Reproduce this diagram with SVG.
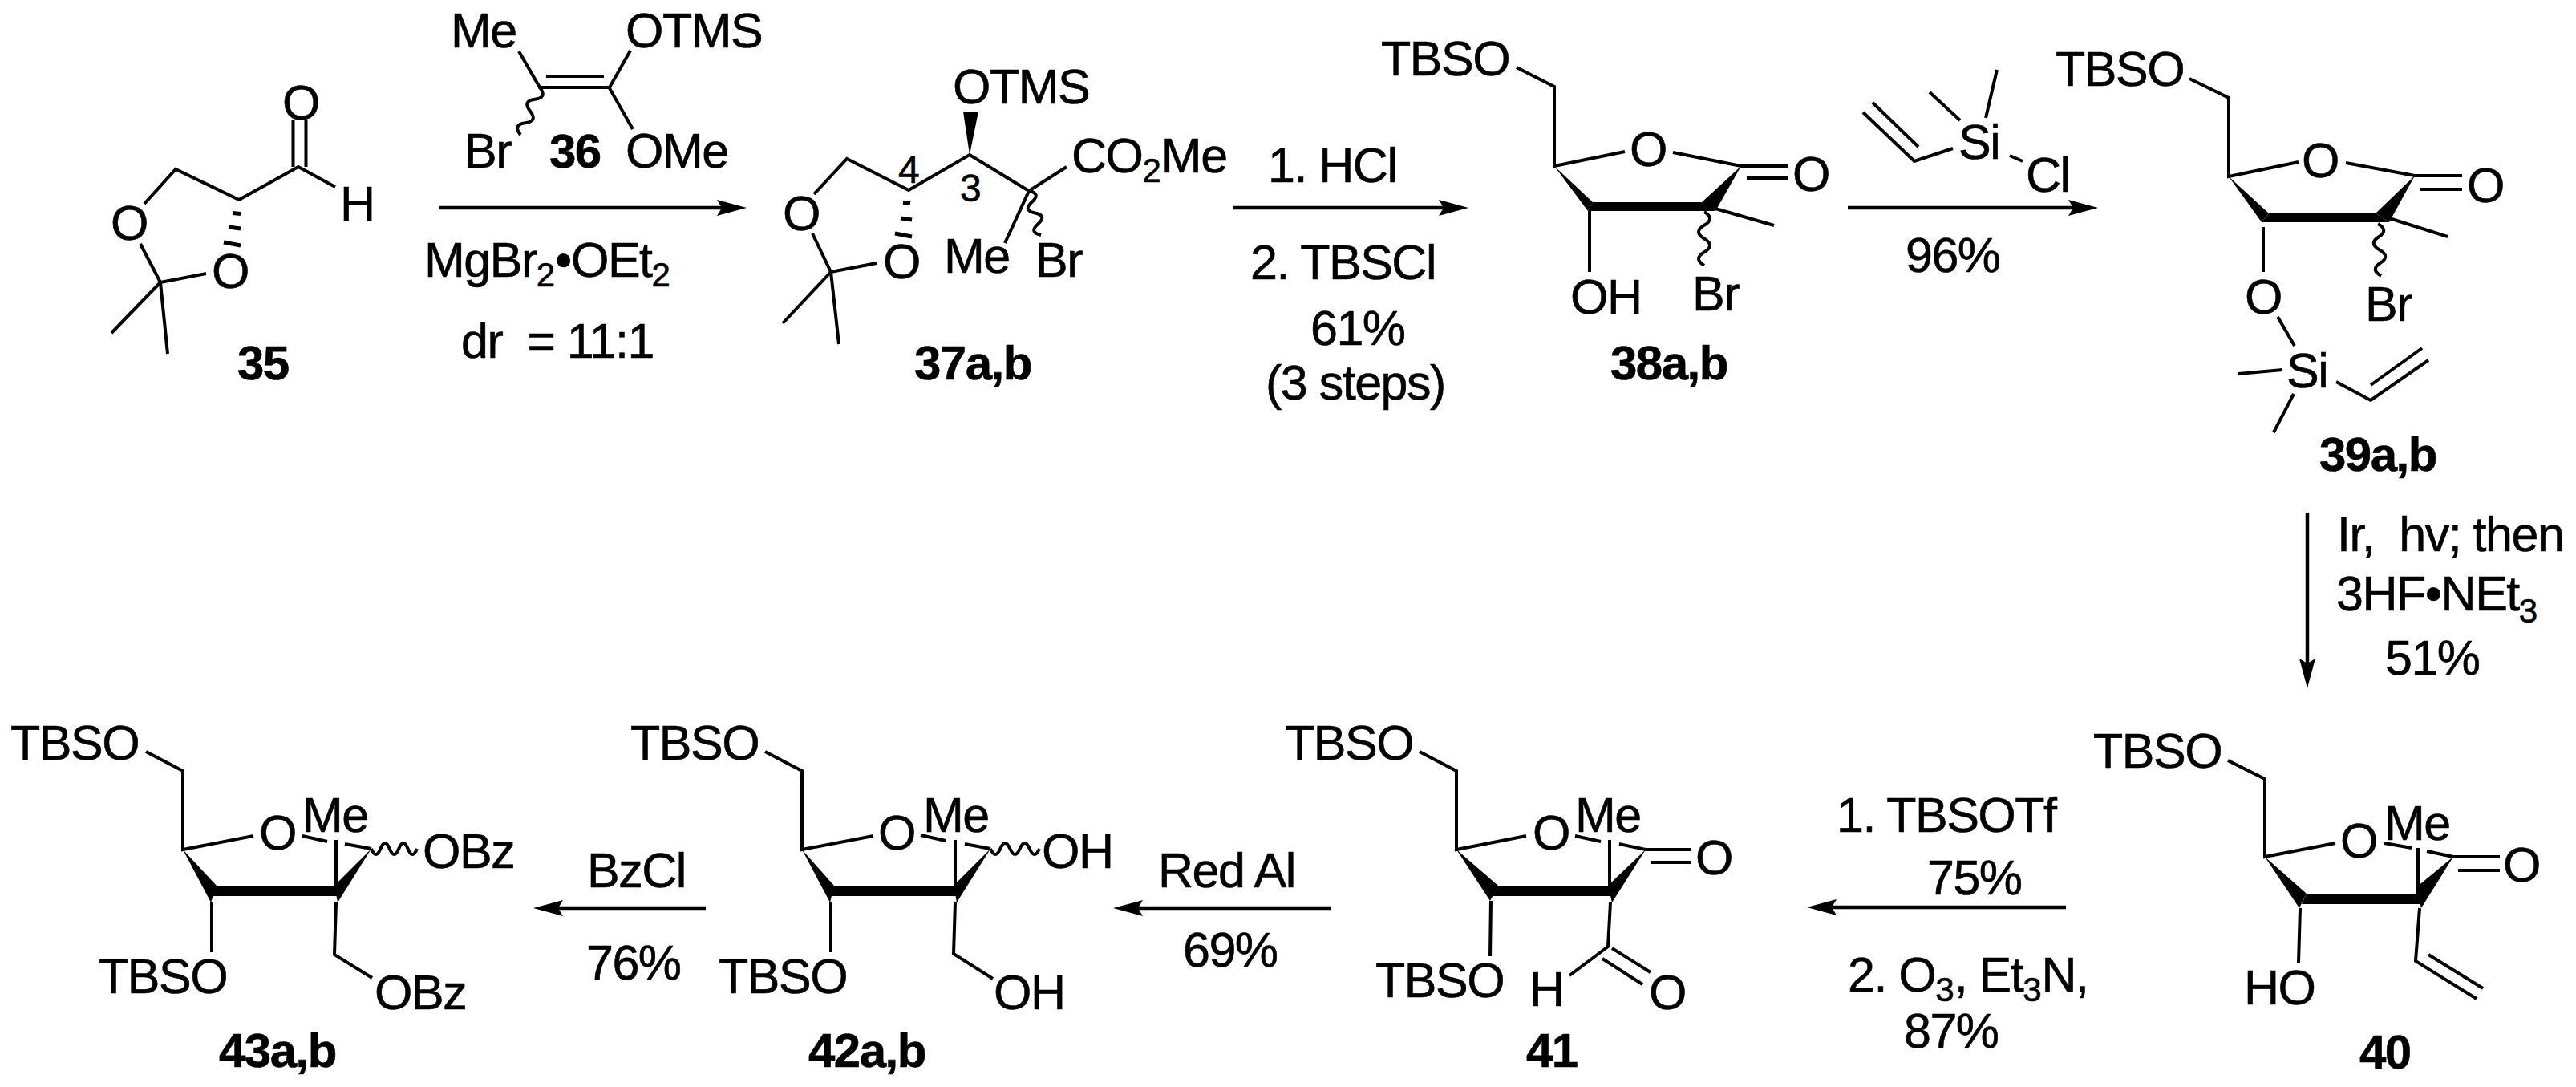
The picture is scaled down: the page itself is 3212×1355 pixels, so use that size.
<svg xmlns="http://www.w3.org/2000/svg" width="3212" height="1355" viewBox="0 0 3212 1355">
<style>
text{font-family:"Liberation Sans",Arial,sans-serif;font-size:61px;letter-spacing:-1.500px;fill:#000;stroke:#000;stroke-width:.6px}
.l{font-weight:bold;font-size:60px}
.n{font-size:48px;letter-spacing:0}
.s{font-size:42px;letter-spacing:0}
.bond{fill:none;stroke:#000;stroke-width:4}
.wave{fill:none;stroke:#000;stroke-width:4}
.hash{fill:none;stroke:#000;stroke-width:5}
.solid{fill:#000;stroke:none}
.arrow{fill:none;stroke:#000;stroke-width:4.500;marker-end:url(#head)}
</style>
<defs>
<marker id="head" markerUnits="userSpaceOnUse" markerWidth="40" markerHeight="22" refX="27" refY="10" orient="auto">
<path d="M0 0L37 10L0 20L6 10Z" fill="#000"/>
</marker>
</defs>
<rect width="3212" height="1355" fill="#fff"/>
<g id="connectors">
<line class="arrow" x1="548" y1="259" x2="921" y2="259"/>
<line class="arrow" x1="1538" y1="259" x2="1821" y2="259"/>
<line class="arrow" x1="2304" y1="259" x2="2606" y2="259"/>
<line class="arrow" x1="2877" y1="639" x2="2877" y2="848"/>
<line class="arrow" x1="2576" y1="1131" x2="2263" y2="1131"/>
<line class="arrow" x1="1660" y1="1132" x2="1398" y2="1132"/>
<line class="arrow" x1="880" y1="1132" x2="675" y2="1132"/>
</g>
<g id="node-35">
<path class="bond" d="M365.500 150V208M381.500 150V208M418 233L372 208L298 249L219 211L180 254M175 304L200 352L257 341M200 352L139 415M200 352L209 441"/>
<path class="hash" d="M290 265.500L300 266.500M285 283L300 285M279 302L300 306"/>
<text x="352" y="149">O</text><text x="424" y="275">H</text><text x="138" y="299">O</text><text x="264" y="359">O</text>
<text class="l" x="296" y="473">35</text>
</g>
<g id="node-36">
<path class="bond" d="M647 64L673 109H760L786 63M760 110L789 161M681 95H753"/>
<path class="wave" d="M673 109q10 12.700 -6 14.750t-6 14.750t-6 14.750t-6 14.750"/>
<text x="562" y="59">Me</text><text x="780" y="59">OTMS</text><text x="579" y="209">Br</text><text x="780" y="209">OMe</text>
<text class="l" x="685" y="209">36</text>
</g>
<g id="reagents-1">
<text x="529" y="345">MgBr<tspan class="s" dy="12">2</tspan><tspan dy="-12">•OEt</tspan><tspan class="s" dy="12">2</tspan></text>
<text x="575" y="446">dr <tspan dx="15.500">= 11:1</tspan></text>
</g>
<g id="node-37">
<path class="bond" d="M1015 242L1056 198L1133 237L1209 193L1283 238L1330 208M1283 238L1253 303M1013 291L1036 339L1093 328M1036 339L976 403M1036 339L1046 429"/>
<polygon class="solid" points="1209,193 1201,139 1220,139"/>
<path class="hash" d="M1126 252.500L1135 253.500M1123 272L1137 274M1116 291L1137 295"/>
<path class="wave" d="M1283 238q15.400 3.200 3.750 13.750t3.750 13.750t3.750 13.750t3.750 13.750"/>
<text x="1188" y="129">OTMS</text><text x="1336" y="215">CO<tspan class="s" dy="12">2</tspan><tspan dy="-12">Me</tspan></text>
<text x="976" y="287">O</text><text x="1101" y="347">O</text>
<text class="n" x="1120" y="228">4</text><text class="n" x="1197" y="251">3</text>
<text x="1177" y="340">Me</text><text x="1291" y="345">Br</text>
<text class="l" x="1140" y="473">37a,b</text>
</g>
<g id="reagents-2">
<text x="1581" y="227">1. HCl</text><text x="1559" y="348">2. TBSCl</text><text x="1634" y="430">61%</text><text x="1578" y="498">(3 steps)</text>
</g>
<g id="node-38">
<path class="bond" d="M1891 84L1938 108V207L2026 189M2086 190L2171 207H2230M2178 222H2230M2139 260L2212 281M1982 263V339"/>
<polygon class="solid" points="1938,207 1986,252 1980,263"/>
<polygon class="solid" points="1986,252 2121,252 2139,263 1980,263"/>
<polygon class="solid" points="2171,207 2121,253 2139,263"/>
<path class="wave" d="M2125 264q14 8.400 0 16.750t0 16.750t0 16.750t0 16.750"/>
<text x="1722" y="94">TBSO</text><text x="2032" y="207">O</text><text x="2235" y="238">O</text><text x="1958" y="391">OH</text><text x="2110" y="387">Br</text>
<text class="l" x="2008" y="473">38a,b</text>
</g>
<g id="vinylsilane">
<path class="bond" d="M2406 115L2444 150M2490 87L2476 147M2435 185L2387 201L2323 140M2392 183L2335 128M2506 194L2522 201"/>
<text x="2442" y="198">Si</text><text x="2526" y="239">Cl</text>
</g>
<text id="yield-3" x="2376" y="339">96%</text>
<g id="node-39">
<path class="bond" d="M2730 98L2779 122V220L2866 202M2925 203L3011 219H3070M3018 236H3070M2979 272L3052 295M2822 283V339M2840 395L2861 431M2791 466L2846 461M2860 491L2835 539M2913 476L2956 499L3028 449M2956 480L3020 434"/>
<polygon class="solid" points="2779,220 2829,266 2820,277"/>
<polygon class="solid" points="2829,266 2962,266 2979,277 2820,277"/>
<polygon class="solid" points="3011,219 2962,266 2979,277"/>
<path class="wave" d="M2965 279q14 8 1 16.250t1 16.250t1 16.250t1 16.250"/>
<text x="2563" y="107">TBSO</text><text x="2870" y="221">O</text><text x="3076" y="252">O</text><text x="2949" y="400">Br</text><text x="2799" y="391">O</text><text x="2851" y="483">Si</text>
<text class="l" x="2892" y="587">39a,b</text>
</g>
<g id="reagents-4">
<text x="2914" y="687">Ir, <tspan dx="15.500">hv; then</tspan></text><text x="2913" y="761">3HF•NEt<tspan class="s" dy="15">3</tspan></text><text x="2974" y="841">51%</text>
</g>
<g id="node-40">
<path class="bond" d="M2778 948L2824 971V1068L2912 1051M2973 1051L3007 1057M3026 1061L3059 1068H3117M3065 1085H3117M3015 1057V1115M2868 1132L2866 1200M3017 1132L3012 1198L3088 1245M3028 1190L3096 1232"/>
<polygon class="solid" points="2824,1068 2876,1114 2867,1132"/>
<polygon class="solid" points="2876,1114 3015,1114 3019,1127 2870,1127"/>
<polygon class="solid" points="3059,1068 3013,1106 3019,1132"/>
<text x="2610" y="957">TBSO</text><text x="2918" y="1069">O</text><text x="2973" y="1047">Me</text><text x="3121" y="1099">O</text><text x="2798" y="1252">HO</text>
<text class="l" x="2942" y="1332">40</text>
</g>
<g id="reagents-5">
<text x="2290" y="1037">1. TBSOTf</text><text x="2403" y="1115">75%</text><text x="2304" y="1236">2. O<tspan class="s" dy="12">3</tspan><tspan dy="-12">, Et</tspan><tspan class="s" dy="12">3</tspan><tspan dy="-12">N,</tspan></text><text x="2374" y="1306">87%</text>
</g>
<g id="node-41">
<path class="bond" d="M1770 937L1816 961V1059L1903 1042M1964 1042L1996 1049M2019 1052L2052 1059H2109M2058 1075H2109M2007 1047V1113M1859 1123L1858 1192M2008 1125L2005 1180L1957 1216M2010 1182L2058 1212M1998 1195L2048 1227"/>
<polygon class="solid" points="1816,1059 1868,1104 1858,1123"/>
<polygon class="solid" points="1868,1104 2007,1104 2008,1117 1860,1117"/>
<polygon class="solid" points="2052,1059 2005,1104 2010,1125"/>
<text x="1602" y="947">TBSO</text><text x="1911" y="1059">O</text><text x="1964" y="1037">Me</text><text x="2114" y="1090">O</text><text x="1715" y="1243">TBSO</text><text x="1907" y="1254">H</text><text x="2056" y="1258">O</text>
<text class="l" x="1903" y="1330">41</text>
</g>
<g id="reagents-6">
<text x="1444" y="1106">Red Al</text><text x="1475" y="1205">69%</text>
</g>
<g id="node-42">
<path class="bond" d="M954 937L1000 961V1059L1089 1042M1148 1041L1179 1048M1203 1052L1235 1058M1191 1047V1113M1036 1125V1187M1191 1125L1189 1189L1238 1220"/>
<polygon class="solid" points="1000,1059 1040,1104 1035,1125"/>
<polygon class="solid" points="1040,1104 1191,1104 1192,1117 1035,1117"/>
<polygon class="solid" points="1235,1058 1189,1104 1193,1125"/>
<path class="wave" d="M1235 1058q6.100 14 12.200 0t12.200 0t12.200 0t12.200 0t12.200 0"/>
<text x="786" y="947">TBSO</text><text x="1095" y="1059">O</text><text x="1151" y="1037">Me</text><text x="1299" y="1082">OH</text><text x="896" y="1238">TBSO</text><text x="1239" y="1258">OH</text>
<text class="l" x="1008" y="1330">42a,b</text>
</g>
<g id="reagents-7">
<text x="732" y="1106">BzCl</text><text x="731" y="1221">76%</text>
</g>
<g id="node-43">
<path class="bond" d="M182 937L228 961V1059L316 1042M377 1042L408 1049M430 1052L463 1058M419 1047V1113M264 1125V1187M419 1125L417 1190L464 1219"/>
<polygon class="solid" points="228,1059 270,1104 263,1125"/>
<polygon class="solid" points="270,1104 419,1104 420,1117 263,1117"/>
<polygon class="solid" points="463,1058 417,1104 421,1125"/>
<path class="wave" d="M463 1058q5.700 14 11.400 0t11.400 0t11.400 0t11.400 0t11.400 0"/>
<text x="13" y="947">TBSO</text><text x="323" y="1059">O</text><text x="377" y="1037">Me</text><text x="527" y="1082">OBz</text><text x="123" y="1238">TBSO</text><text x="467" y="1258">OBz</text>
<text class="l" x="273" y="1330">43a,b</text>
</g>
</svg>
